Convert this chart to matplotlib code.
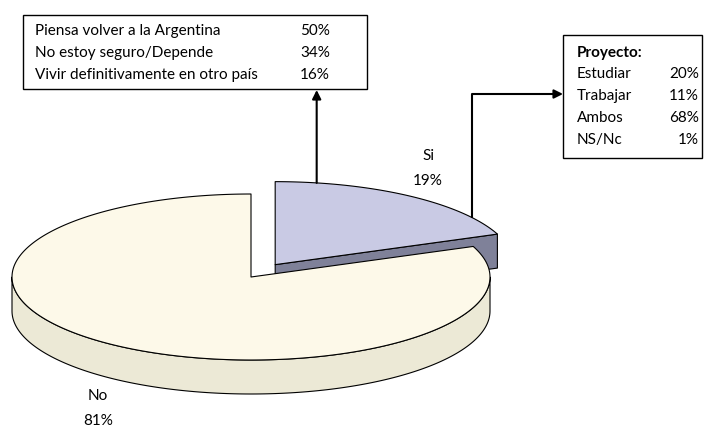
import numpy as np
import matplotlib.pyplot as plt
from matplotlib.patches import Polygon, Rectangle

categories = ["Si", "No"]
shares = [19, 81]

regreso_labels = ["Piensa volver a la Argentina", "No estoy seguro/Depende",
                  "Vivir definitivamente en otro país"]
regreso_pct = [50, 34, 16]

proyecto_title = "Proyecto:"
proyecto_labels = ["Estudiar", "Trabajar", "Ambos", "NS/Nc"]
proyecto_pct = [20, 11, 68, 1]

plt.rcParams['font.family'] = ['Lato', 'DejaVu Sans']
FS = 11

# pie drawn in pixel units (y grows downwards)
CX, CY = 251, 277
RX, RY = 239, 83
DEPTH = 34
EXPLODE = 0.18

top_colors = ["#C9CAE4", "#FDF9E9"]
side_colors = ["#7F8199", "#ECE9D6"]
edge = dict(edgecolor="black", linewidth=0.8, joinstyle="round")


def rim(theta, cx, cy, dz=0.0):
    t = np.radians(np.atleast_1d(theta))
    return np.column_stack([cx + RX * np.cos(t), cy - RY * np.sin(t) + dz])


fig = plt.figure(figsize=(7.1, 4.29), dpi=100)
ax = fig.add_axes([0, 0, 1, 1])
ax.set_xlim(0, 710)
ax.set_ylim(429, 0)
ax.axis("off")

# slice angles, starting at 12 o'clock and going clockwise
total = sum(shares)
spans = [360 * s / total for s in shares]
t_si = (90 - spans[0], 90)
t_no = (90 - spans[0] - spans[1], 90 - spans[0])

# "Si" slice, pulled out along its mid angle
mid = np.radians(np.mean(t_si))
sx = CX + EXPLODE * RX * np.cos(mid)
sy = CY - EXPLODE * RY * np.sin(mid)

p = rim(t_si[0], sx, sy)[0]
ax.add_patch(Polygon([(sx, sy), p, (p[0], p[1] + DEPTH), (sx, sy + DEPTH)],
                     facecolor=side_colors[0], **edge))
arc = rim(np.linspace(t_si[1], t_si[0], 80), sx, sy)
ax.add_patch(Polygon(np.vstack([[(sx, sy)], arc]), facecolor=top_colors[0], **edge))

# "No" slice: front wall then top face
lo, hi = max(t_no[0], -180), min(t_no[1], 0)
ang = np.linspace(lo, hi, 200)
wall = np.vstack([rim(ang, CX, CY), rim(ang[::-1], CX, CY, DEPTH)])
ax.add_patch(Polygon(wall, facecolor=side_colors[1], **edge))
arc = rim(np.linspace(t_no[1], t_no[0], 300), CX, CY)
ax.add_patch(Polygon(np.vstack([[(CX, CY)], arc]), facecolor=top_colors[1], **edge))

# slice labels
for (x, y), cat, s in zip([(428, 156), (98, 396)], categories, shares):
    ax.text(x, y, cat, ha="center", va="center", fontsize=FS)
    ax.text(x, y + 25, f"{s}%", ha="center", va="center", fontsize=FS)

# left box
ax.add_patch(Rectangle((23, 15), 344, 74, facecolor="white", edgecolor="black", lw=1))
for i, (lab, v) in enumerate(zip(regreso_labels, regreso_pct)):
    y = 31 + 22 * i
    ax.text(35, y, lab, ha="left", va="center", fontsize=FS)
    ax.text(300, y, f"{v}%", ha="left", va="center", fontsize=FS)

# right box
ax.add_patch(Rectangle((563, 35), 139, 123, facecolor="white", edgecolor="black", lw=1))
ax.text(577, 53, proyecto_title, ha="left", va="center", fontsize=FS, fontweight="bold")
for i, (lab, v) in enumerate(zip(proyecto_labels, proyecto_pct)):
    y = 74 + 22 * i
    ax.text(577, y, lab, ha="left", va="center", fontsize=FS)
    ax.text(699, y, f"{v}%", ha="right", va="center", fontsize=FS)

# leader arrows from the "Si" slice
arrow = dict(arrowstyle="-|>", color="black", lw=1.5, mutation_scale=13,
             shrinkA=0, shrinkB=0)
a = rim(80, sx, sy)[0]
ax.annotate("", xy=(a[0], 90), xytext=(a[0], a[1]), arrowprops=arrow)
b = rim(34.5, sx, sy)[0]
ax.plot([b[0], b[0], 540], [b[1], 94, 94], color="black", lw=1.5, solid_capstyle="butt")
ax.annotate("", xy=(563, 94), xytext=(540, 94), arrowprops=arrow)

fig.savefig("out.png", dpi=100)
